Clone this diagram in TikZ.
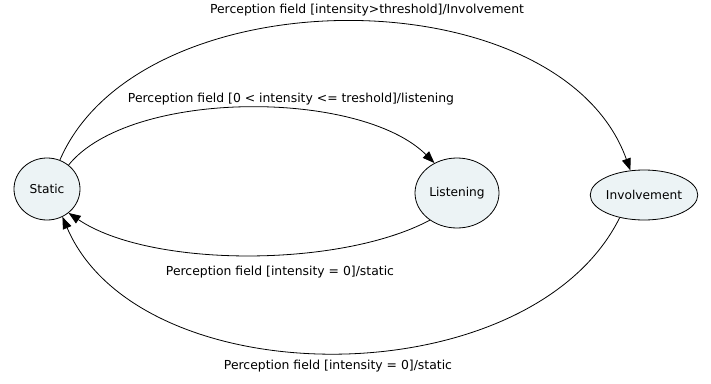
\documentclass[tikz,border=0pt]{standalone}
\usepackage{fontspec}
\setmainfont{DejaVu Sans}
\usetikzlibrary{shapes.geometric,arrows.meta}
\definecolor{statefill}{RGB}{236,243,245}
\tikzset{
  state/.style={ellipse, draw=black, line width=0.8pt, fill=statefill, inner sep=0pt, font=\fontsize{12.2}{14}\selectfont},
  trans/.style={draw=black, line width=0.8pt, -{Triangle[length=12pt,width=9pt]}},
  lbl/.style={font=\fontsize{12.4}{14}\selectfont, inner sep=0pt}
}
\begin{document}
\begin{tikzpicture}[x=1pt,y=-1pt]
\useasboundingbox (0,0) rectangle (711,383);
\node[state, minimum width=66pt, minimum height=62pt] (static) at (47,189) {Static};
\node[state, minimum width=84pt, minimum height=70pt] (listening) at (457,193) {Listening};
\node[state, minimum width=96pt, minimum height=50pt] (involvement) at (644,195) {Involvement};

\draw[trans] (static.66) .. controls (140,-26) and (560,-26) .. (involvement.119);
\draw[trans] (static.48) .. controls (130,89) and (360,89) .. (listening.127);
\draw[trans] (listening.225) .. controls (340,268) and (150,268) .. (static.-48);
\draw[trans] (involvement.223) .. controls (530,398) and (140,398) .. (static.-61);

\node[lbl] (l1) at (367,10) {Perception field [intensity>threshold]/Involvement};
\node[lbl] (l2) at (291,99) {Perception field [0 < intensity <= treshold]/listening};
\node[lbl] (l3) at (280,272) {Perception field [intensity = 0]/static};
\node[lbl] (l4) at (338,366) {Perception field [intensity = 0]/static};
\end{tikzpicture}
\end{document}
